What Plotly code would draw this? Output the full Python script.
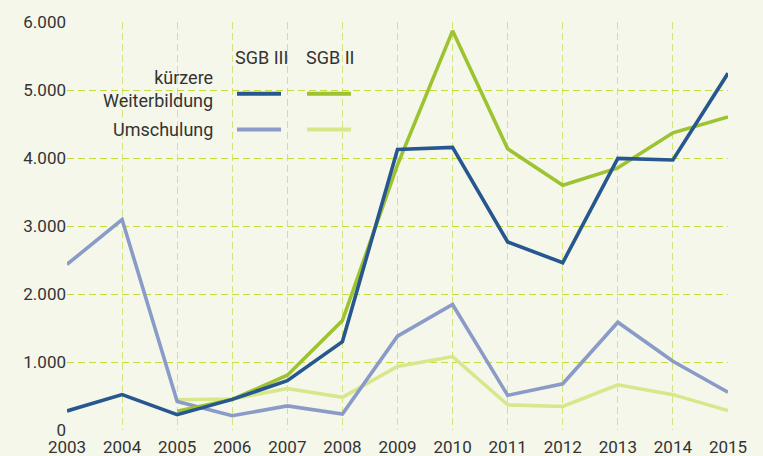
import plotly.graph_objects as go

years = list(range(2003, 2016))
sgb3_kurz = [280, 520, 225, 450, 725, 1300, 4125, 4155, 2765, 2460, 3995, 3970, 5245]
sgb2_kurz = [None, None, 275, 450, 805, 1610, 3900, 5870, 4135, 3600, 3855, 4370, 4605]
sgb3_umsch = [2435, 3095, 420, 210, 355, 235, 1380, 1845, 510, 680, 1585, 1010, 555]
sgb2_umsch = [None, None, 445, 455, 610, 480, 935, 1080, 370, 345, 665, 520, 285]

y_ticks = [0, 1000, 2000, 3000, 4000, 5000, 6000]
y_tick_text = ["0", "1.000", "2.000", "3.000", "4.000", "5.000", "6.000"]

col_headers = ["SGB III", "SGB II"]
row_labels = ["kürzere<br>Weiterbildung", "Umschulung"]

c_dblue = "#27578F"
c_green = "#9DC331"
c_lblue = "#8A9BC7"
c_pgreen = "#D7E78C"
bg = "#F5F7EA"
text_c = "#333333"
FONT = "Roboto"

W, H = 763, 456
L, R, T, B = 67, 35, 22, 26
pw, ph = W - L - R, H - T - B


def px(x):
    return (x - L) / pw


def py(y):
    return (H - B - y) / ph


fig = go.Figure()
series = [
    (sgb2_umsch, c_pgreen, "SGB II Umschulung"),
    (sgb3_umsch, c_lblue, "SGB III Umschulung"),
    (sgb2_kurz, c_green, "SGB II kürzere Weiterbildung"),
    (sgb3_kurz, c_dblue, "SGB III kürzere Weiterbildung"),
]
for vals, col, name in series:
    fig.add_trace(go.Scatter(x=years, y=vals, mode="lines", name=name,
                             line=dict(color=col, width=3.6),
                             connectgaps=False, showlegend=False))

shapes = []
# opaque legend background (hides grid lines)
shapes.append(dict(type="rect", xref="paper", yref="paper", layer="between",
                   x0=px(93), x1=px(362), y0=py(143), y1=py(67),
                   fillcolor=bg, line=dict(width=0)))
shapes.append(dict(type="rect", xref="paper", yref="paper", layer="between",
                   x0=px(170), x1=px(362), y0=py(67), y1=py(37),
                   fillcolor=bg, line=dict(width=0)))
samples = [
    (237, 281, 93.7, c_dblue),
    (307, 351, 93.7, c_green),
    (237, 281, 129.5, c_lblue),
    (307, 351, 129.5, c_pgreen),
]
for x0, x1, yy, col in samples:
    shapes.append(dict(type="line", xref="paper", yref="paper", layer="above",
                       x0=px(x0), x1=px(x1), y0=py(yy), y1=py(yy),
                       line=dict(color=col, width=4)))

annotations = []
for txt, xc in zip(col_headers, [261, 330]):
    annotations.append(dict(text=txt, xref="paper", yref="paper", x=px(xc), y=py(57),
                            xanchor="center", yanchor="middle", showarrow=False,
                            font=dict(family=FONT, size=18, color=text_c)))
annotations.append(dict(text=row_labels[0], xref="paper", yref="paper", x=px(215), y=py(89),
                        xanchor="right", yanchor="middle", align="right", showarrow=False,
                        font=dict(family=FONT, size=18, color=text_c)))
annotations.append(dict(text=row_labels[1], xref="paper", yref="paper", x=px(215), y=py(130),
                        xanchor="right", yanchor="middle", align="right", showarrow=False,
                        font=dict(family=FONT, size=18, color=text_c)))

fig.update_layout(
    width=W, height=H,
    margin=dict(l=L, r=R, t=T, b=B, autoexpand=False),
    paper_bgcolor=bg, plot_bgcolor=bg,
    font=dict(family=FONT, size=17, color=text_c),
    shapes=shapes, annotations=annotations,
    showlegend=False,
)
fig.update_xaxes(range=[2003, 2015], tickmode="array", tickvals=years,
                 ticktext=[str(y) for y in years],
                 showgrid=True, gridcolor="#D3E47E", griddash="7px,4px", gridwidth=1.3,
                 zeroline=False, showline=False, ticks="", automargin=False,
                 ticklabelstandoff=5,
                 tickfont=dict(family=FONT, size=17, color=text_c))
fig.update_yaxes(range=[0, 6000], tickmode="array", tickvals=y_ticks, ticktext=y_tick_text,
                 showgrid=True, gridcolor="#C6DC3E", griddash="7px,4px", gridwidth=1.3,
                 zeroline=False, showline=False, ticks="", automargin=False,
                 tickfont=dict(family=FONT, size=17, color=text_c))

fig.write_html("out.html", config={"displayModeBar": False},
               post_script="document.body.style.margin='0';document.body.style.overflow='hidden';")
